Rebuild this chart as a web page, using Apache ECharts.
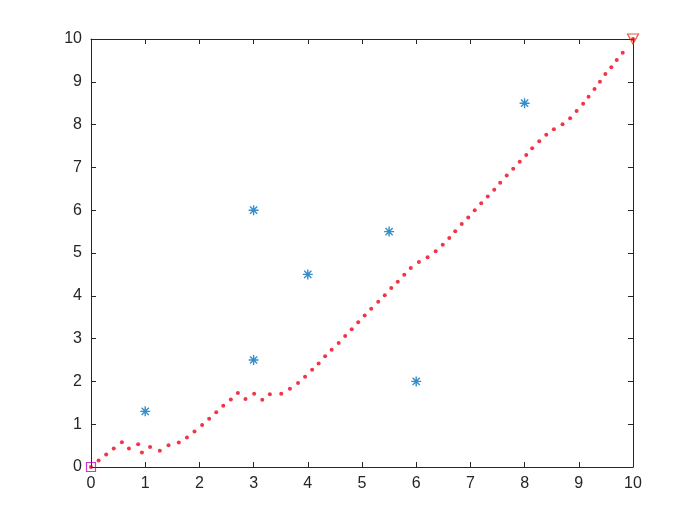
<!DOCTYPE html>
<html><head><meta charset="utf-8">
<script src="https://cdn.jsdelivr.net/npm/echarts@6/dist/echarts.min.js"></script>
<style>html,body{margin:0;padding:0;background:#fff}#c{width:700px;height:525px}</style>
</head><body><div id="c"></div>
<script>
// Axis ticks
const xTicks = [0,1,2,3,4,5,6,7,8,9,10];
const yTicks = [0,1,2,3,4,5,6,7,8,9,10];
// Obstacle points (blue asterisks)
const obstacleX = [1, 3, 3, 4, 5.5, 6, 8];
const obstacleY = [1.3, 6, 2.5, 4.5, 5.5, 2, 8.5];
// Path points (red dots)
const pathX = [0,0.14,0.28,0.42,0.57,0.70,0.87,0.94,1.09,1.27,1.43,1.62,1.77,1.91,2.05,2.18,2.31,2.44,2.58,2.71,2.85,3.01,3.16,3.30,3.51,3.67,3.82,3.95,4.08,4.20,4.32,4.44,4.57,4.69,4.81,4.93,5.05,5.17,5.30,5.42,5.54,5.66,5.78,5.90,6.05,6.21,6.36,6.49,6.61,6.72,6.84,6.96,7.08,7.20,7.32,7.44,7.55,7.67,7.79,7.91,8.03,8.14,8.27,8.40,8.54,8.70,8.84,8.96,9.08,9.18,9.29,9.39,9.49,9.60,9.70,9.81,10];
const pathY = [0,0.15,0.29,0.43,0.58,0.43,0.53,0.34,0.47,0.38,0.51,0.57,0.69,0.83,0.98,1.13,1.28,1.43,1.58,1.73,1.59,1.71,1.57,1.70,1.71,1.83,1.96,2.11,2.27,2.42,2.59,2.74,2.90,3.06,3.22,3.38,3.54,3.70,3.86,4.01,4.18,4.33,4.49,4.65,4.79,4.90,5.04,5.19,5.35,5.51,5.68,5.83,6.00,6.16,6.32,6.48,6.64,6.81,6.97,7.13,7.29,7.45,7.61,7.76,7.89,8.01,8.15,8.32,8.49,8.65,8.83,9.00,9.18,9.34,9.51,9.68,10];
const startPt = [0, 0];
const goalPt = [10, 10];

const axisColor = '#262626';
const labelFont = {color: axisColor, fontSize: 16, fontFamily: 'Liberation Sans, Arial, sans-serif'};
function mkAxis(pos, show, ticks) {
  return {
    type: 'value', position: pos, min: ticks[0], max: ticks[ticks.length-1], interval: 1,
    axisLine: {show: true, onZero: false, lineStyle: {color: axisColor, width: 1}},
    axisTick: {show: true, inside: true, length: 5, lineStyle: {color: axisColor}},
    axisLabel: Object.assign({show: show, margin: 9}, labelFont),
    splitLine: {show: false}
  };
}
const chart = echarts.init(document.getElementById('c'), null, {renderer: 'canvas'});
chart.setOption({
  animation: false,
  backgroundColor: '#fff',
  grid: {left: 91, right: 67, top: 39, bottom: 58, containLabel: false},
  xAxis: [mkAxis('bottom', true, xTicks), mkAxis('top', false, xTicks)],
  yAxis: [mkAxis('left', true, yTicks), mkAxis('right', false, yTicks)],
  series: [
    {
      type: 'scatter', xAxisIndex: 0, yAxisIndex: 0,
      data: obstacleX.map((x, i) => [x, obstacleY[i]]),
      symbol: 'path://M0,-1L0,1M-1,0L1,0M-0.72,-0.72L0.72,0.72M-0.72,0.72L0.72,-0.72',
      symbolSize: 10,
      itemStyle: {color: 'none', borderColor: '#0072BD', borderWidth: 1.4}
    },
    {
      type: 'scatter', xAxisIndex: 0, yAxisIndex: 0,
      data: [startPt],
      symbol: 'rect', symbolSize: 9,
      itemStyle: {color: 'none', borderColor: '#CC00CC', borderWidth: 1.2}
    },
    {
      type: 'scatter', xAxisIndex: 0, yAxisIndex: 0,
      data: [goalPt],
      symbol: 'path://M-1,-0.87L1,-0.87L0,0.87Z', symbolSize: [11, 10],
      itemStyle: {color: 'none', borderColor: '#E03010', borderWidth: 1.2}
    },
    {
      type: 'scatter', xAxisIndex: 0, yAxisIndex: 0,
      data: pathX.map((x, i) => [x, pathY[i]]),
      symbol: 'circle', symbolSize: 4,
      itemStyle: {color: '#F00018'}
    }
  ]
});
</script></body></html>
